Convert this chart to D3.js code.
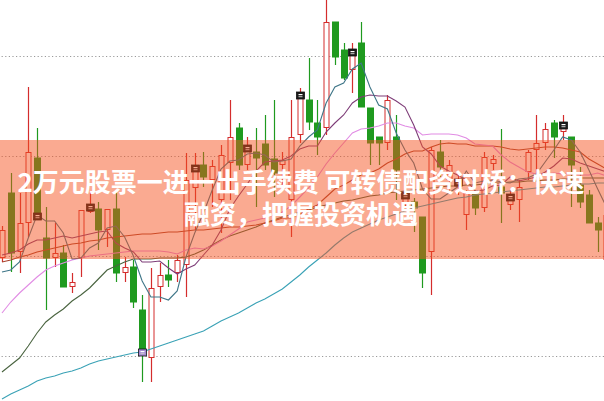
<!DOCTYPE html>
<html><head><meta charset="utf-8">
<script src="https://cdn.jsdelivr.net/npm/d3@7"></script>
<style>html,body{margin:0;padding:0;background:#fff;}svg{display:block;}</style>
</head><body>
<svg id="chart" width="604" height="401"></svg>
<script>
const open  = [10.98,11.63,11.04,11.33,11.98,11.18,10.98,11.03,10.69,10.98,11.44,11.47,11.26,11.47,10.83,10.89,10.46,9.98,10.69,10.81,10.83,10.91,11.68,11.91,11.76,11.56,11.93,12.28,11.91,12.04,12.12,11.97,11.91,11.56,12.21,12.56,12.33,12.28,13.34,13.06,12.86,13.13,12.48,12.19,12.13,12.19,11.53,11.54,11.39,11.04,12.04,11.76,11.69,11.41,11.63,11.48,11.92,11.69,11.51,11.56,11.84,12.06,12.13,12.33,12.24,12.19,11.71,11.61,11.33,10.96];
const high  = [11.30,11.83,11.63,12.69,12.28,11.49,11.33,11.11,10.83,11.46,11.63,11.54,11.47,11.64,10.99,10.96,10.61,10.88,10.93,10.96,11.01,12.03,12.03,12.04,11.96,12.11,12.56,12.33,12.19,12.28,12.41,12.56,12.04,12.56,12.68,12.98,12.56,13.60,13.34,13.13,13.13,13.34,12.48,12.19,12.61,12.41,11.66,11.58,11.39,12.09,12.16,11.96,11.81,11.66,11.66,12.04,12.01,12.27,11.66,11.76,12.06,12.41,12.33,12.36,12.41,12.19,11.89,11.66,11.39,11.56];
const low   = [10.94,10.84,10.83,11.19,11.36,10.46,10.89,10.69,10.63,10.79,11.43,11.06,11.09,10.74,10.74,10.48,9.74,9.74,10.54,10.69,10.74,10.59,11.26,11.69,11.49,11.23,11.56,11.86,11.86,11.49,11.86,11.59,11.66,11.19,12.13,12.26,12.01,12.21,12.91,12.76,12.63,12.49,11.91,11.91,12.06,11.56,11.49,11.24,10.68,10.61,11.79,11.63,11.61,11.26,11.41,11.44,11.86,11.33,11.46,11.34,11.76,11.83,12.06,11.98,12.16,11.49,11.48,11.33,11.04,10.86];
const close = [11.26,11.03,11.33,12.04,11.39,10.98,11.03,10.69,10.74,11.46,11.49,11.26,11.47,10.83,10.89,10.54,10.03,10.68,10.81,10.76,10.96,11.76,11.88,11.79,11.90,12.01,12.19,11.91,12.08,11.98,11.91,11.83,11.96,12.19,12.61,12.34,12.19,13.34,12.99,12.78,13.04,12.49,12.13,12.13,12.56,11.86,11.61,11.48,10.83,12.06,11.89,11.91,11.74,11.63,11.48,11.99,11.97,11.63,11.59,11.69,12.04,12.13,12.27,12.19,12.31,11.91,11.54,11.33,11.26,11.41];
const days = open.map((_, i) => "D" + (i + 1));
const markerDays = ["D5","D11","D17","D23","D29","D35","D41","D47","D53","D59","D65"];

const ma5   = [10.84,10.86,10.94,11.18,11.41,11.35,11.35,11.23,10.97,10.98,11.08,11.13,11.28,11.30,11.19,11.00,10.75,10.59,10.59,10.56,10.65,10.99,11.23,11.43,11.66,11.87,11.95,11.96,12.02,12.03,12.01,11.94,11.95,11.97,12.10,12.19,12.26,12.53,12.69,12.73,12.87,12.93,12.69,12.51,12.47,12.23,12.06,11.93,11.67,11.57,11.57,11.63,11.69,11.85,11.73,11.75,11.76,11.74,11.73,11.77,11.78,11.82,11.94,12.06,12.19,12.16,12.04,11.86,11.67,11.49];
const ma10  = [11.01,11.03,11.06,11.12,11.16,11.16,11.18,11.20,11.18,11.20,11.22,11.24,11.25,11.13,11.08,11.04,10.94,10.94,10.95,10.88,10.82,10.87,10.91,11.01,11.11,11.26,11.47,11.60,11.72,11.85,11.94,11.95,11.96,12.00,12.07,12.10,12.10,12.24,12.33,12.41,12.53,12.59,12.61,12.60,12.60,12.55,12.49,12.31,12.09,12.02,11.90,11.85,11.81,11.76,11.65,11.66,11.70,11.71,11.79,11.75,11.77,11.79,11.84,11.90,11.98,11.97,11.93,11.90,11.87,11.84];
const ma20  = [10.43,10.54,10.63,10.71,10.79,10.86,10.90,10.93,10.96,10.98,11.00,11.01,11.02,11.03,11.04,11.05,11.05,11.05,11.05,11.04,11.02,11.06,11.08,11.07,11.10,11.15,11.21,11.27,11.34,11.36,11.38,11.41,11.44,11.50,11.59,11.68,11.79,11.92,12.03,12.13,12.23,12.27,12.28,12.30,12.33,12.33,12.30,12.28,12.21,12.22,12.22,12.22,12.21,12.18,12.12,12.11,12.10,12.01,11.94,11.89,11.84,11.82,11.82,11.83,11.82,11.82,11.81,11.81,11.83,11.80];
const ma30  = [10.94,10.96,10.99,11.01,11.04,11.06,11.08,11.10,11.12,11.13,11.15,11.16,11.18,11.19,11.20,11.21,11.22,11.22,11.23,11.24,11.24,11.25,11.26,11.26,11.27,11.28,11.29,11.29,11.30,11.31,11.33,11.35,11.38,11.38,11.42,11.47,11.51,11.59,11.67,11.71,11.76,11.81,11.83,11.87,11.93,11.97,12.02,12.05,12.05,12.09,12.12,12.13,12.12,12.12,12.10,12.10,12.10,12.09,12.07,12.06,12.07,12.08,12.09,12.09,12.08,12.06,12.04,11.97,11.92,11.87];
const ma60  = [9.84,9.91,9.98,10.10,10.23,10.34,10.41,10.47,10.55,10.61,10.68,10.77,10.86,10.90,10.94,10.97,10.97,10.97,10.98,10.98,10.98,10.99,11.02,11.06,11.11,11.16,11.20,11.23,11.26,11.29,11.33,11.36,11.39,11.41,11.44,11.46,11.49,11.51,11.53,11.55,11.56,11.58,11.60,11.61,11.63,11.64,11.65,11.66,11.67,11.68,11.69,11.70,11.70,11.71,11.71,11.72,11.73,11.73,11.74,11.74,11.75,11.75,11.76,11.76,11.77,11.77,11.78,11.78,11.78,11.78];
const ma120 = [9.57,9.62,9.66,9.70,9.75,9.78,9.80,9.83,9.85,9.88,9.92,9.95,9.97,9.99,10.01,10.03,10.04,10.07,10.10,10.13,10.16,10.19,10.22,10.25,10.30,10.35,10.39,10.43,10.48,10.53,10.57,10.62,10.67,10.74,10.81,10.89,10.96,11.03,11.11,11.18,11.24,11.28,11.32,11.36,11.39,11.42,11.45,11.48,11.50,11.52,11.54,11.56,11.58,11.59,11.61,11.62,11.63,11.64,11.65,11.66,11.67,11.68,11.69,11.69,11.70,11.71,11.72,11.72,11.73,11.73];
const gridTicks = [10, 11, 12, 13];
const bandRange = [10.97, 12.16];
const titleLines = ["2万元股票一进一出手续费 可转债配资过桥：快速", "融资，把握投资机遇"];

const W = 604, H = 401;
const svg = d3.select("#chart");
const x = d3.scaleBand().domain(days).range([-2.38, 610.82]).paddingInner(0).paddingOuter(0);
const y = d3.scaleLinear().domain([9.55, 13.56]).range([H, 0]);
const cx = d => x(d) + x.bandwidth() / 2;

const RED = "#d42d2d", GREEN = "#1f9a1f";

// gridlines
const gAx = svg.append("g").attr("transform", `translate(${W},0)`).call(d3.axisRight(y).tickValues(gridTicks).tickSize(-W).tickFormat(""));
gAx.select(".domain").remove();
gAx.selectAll(".tick line").attr("stroke", "#9a9a9a").attr("stroke-dasharray", "1.2,2.4").attr("stroke-width", 1);

const data = days.map((d, i) => ({d, o: open[i], h: high[i], l: low[i], c: close[i]}));

// wicks
svg.append("g").selectAll("line").data(data).join("line")
  .attr("x1", d => Math.round(cx(d.d)) + 0.5).attr("x2", d => Math.round(cx(d.d)) + 0.5)
  .attr("y1", d => y(d.h)).attr("y2", d => y(d.l))
  .attr("stroke", d => d.c >= d.o ? RED : GREEN).attr("stroke-width", 1.2);

// bodies
svg.append("g").selectAll("rect").data(data).join("rect")
  .attr("x", d => d.c >= d.o ? Math.round(cx(d.d)) - 2 : Math.round(cx(d.d)) - 2.5)
  .attr("width", d => d.c >= d.o ? 5 : 6)
  .attr("y", d => y(Math.max(d.o, d.c)) + (d.c >= d.o ? 0.5 : 0))
  .attr("height", d => Math.max(1.5, Math.abs(y(d.o) - y(d.c)) - (d.c >= d.o ? 1 : 0)))
  .attr("fill", d => d.c >= d.o ? "#ffffff" : GREEN)
  .attr("stroke", d => d.c >= d.o ? RED : GREEN)
  .attr("stroke-width", 1);

// moving averages
const lines = [
  {v: ma120, c: "#3aa2b6"},
  {v: ma60, c: "#4a6440"},
  {v: ma30, c: "#a8442e"},
  {v: ma20, c: "#e18ce4"},
  {v: ma10, c: "#7e3d78"},
  {v: ma5, c: "#3f7688"}
];
const lineGen = d3.line().x((v, i) => cx(days[i])).y(v => y(v)).curve(d3.curveLinear);
svg.append("g").selectAll("path").data(lines).join("path")
  .attr("d", d => lineGen(d.v)).attr("fill", "none")
  .attr("stroke", d => d.c).attr("stroke-width", 1.1);

// markers at close
const mk = svg.append("g").selectAll("g").data(data.filter(d => markerDays.includes(d.d))).join("g")
  .attr("transform", d => `translate(${Math.round(cx(d.d)) - 3.5},${y(d.c) - (d.c >= d.o ? 3 : 4)})`);
mk.append("rect").attr("width", 8).attr("height", 7).attr("fill", d => d.d === "D17" ? "#a58ad2" : "#1a1a1a")
  .attr("stroke", "#111").attr("stroke-width", 0.8);
mk.append("rect").attr("x", 2).attr("y", 2).attr("width", 4).attr("height", 1.2).attr("fill", "#ffffff");
mk.append("rect").attr("x", 2).attr("y", 4.2).attr("width", 4).attr("height", 1).attr("fill", "#cccccc");

// translucent band overlay
svg.append("rect").attr("x", 0).attr("width", W)
  .attr("y", y(bandRange[1])).attr("height", y(bandRange[0]) - y(bandRange[1]))
  .attr("fill", "rgb(245,82,30)").attr("fill-opacity", 0.49);

// title text: one wrapped text block with two lines
const title = svg.append("text")
  .attr("text-anchor", "middle")
  .attr("fill", "#ffffff").attr("font-family", "'Noto Sans CJK SC', sans-serif")
  .attr("font-weight", "bold").attr("font-size", 26);
title.selectAll("tspan").data(titleLines).join("tspan")
  .attr("x", 301).attr("y", (d, i) => 192 + i * 32)
  .text(d => d);
</script>
</body></html>
